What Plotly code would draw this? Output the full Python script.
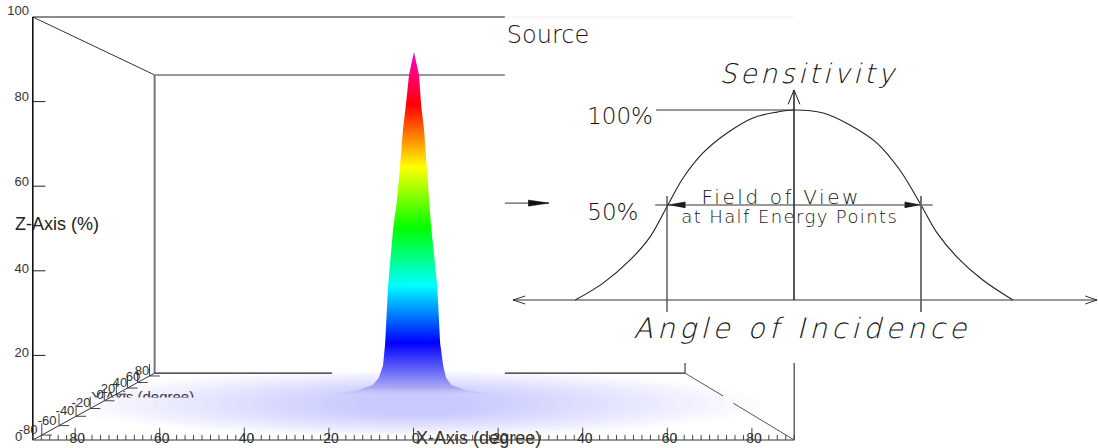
import json
import numpy as np
import plotly.graph_objects as go

W, H = 1098, 448
# ---- left panel scale: degrees and percent, both at the same picture scale
X0_PX, Z0_PX, DEG_PX, PCT_PX = 413.5, 440.0, 4.23, 4.23
# ---- right panel scale
A0_PX, S0_PX, ANG_PX, SENS_PX = 794.0, 300.0, 4.233, 1.9

# ---------- left panel data ----------
x_major = [-80, -60, -40, -20, 0, 20, 40, 60, 80]
x_major_labels = ["80", "60", "40", "20", "0", "20", "40", "60", "80"]
x_minor = list(range(-90, 91, 2))
z_ticks = [20, 40, 60, 80]
z_labels = ["0", "20", "40", "60", "80", "100"]
z_label_x = [-92.5, -90.9, -90.9, -90.9, -90.9, -90.9]
z_label_level = [0.5, 20.4, 40.2, 60.7, 81.0, 101.3]
y_labels = ["-80", "-60", "-40", "-20", "0", "20", "40", "60", "80"]
y_tick_depth = [0.074, 0.215, 0.355, 0.471, 0.587, 0.686, 0.777, 0.86, 0.958]
y_label_x = [-91.1, -86.6, -82.4, -78.6, -74.1, -72.2, -69.4, -66.3, -64.2]
y_label_z = [2.1, 4.3, 6.6, 8.5, 10.4, 11.8, 13.2, 14.7, 16.1]

peak_level = [91.7, 86.3, 79.2, 73.3, 64.5, 56.7, 50.1, 36.6, 22.9, 17.7, 14.7, 13.0, 11.8, 10.9]
peak_left = [0.1, -1.06, -1.8, -2.5, -3.2, -3.9, -4.8, -6.0, -6.7, -7.2, -8.2, -9.6, -13.0, -18.6]
peak_right = [0.1, 1.3, 1.8, 2.5, 3.1, 3.7, 4.2, 5.6, 6.3, 7.0, 7.7, 8.9, 12.4, 18.1]
color_level = [10.5, 12.3, 22.9, 36.6, 50.1, 64.5, 79.2, 91.0, 91.7]
color_value = ["rgba(205,205,248,0.2)", "#a9a9f3", "#0000ff", "#00ffff", "#00ff00", "#ffff00",
               "#ff0000", "#ff00c0", "#e000e0"]

floor_rx = [82, 78, 74, 70, 66, 62, 58, 54, 50, 46, 42, 38, 34, 30, 26, 22, 18, 14]
floor_rz = [7.8, 7.6, 7.3, 7.1, 6.8, 6.5, 6.2, 5.9, 5.6, 5.3, 5.0, 4.7, 4.4, 4.1, 3.8, 3.5, 3.2, 2.9]
floor_centre = 8.6

# ---------- right panel data ----------
curve_angle = [-51.7, -45.1, -38.7, -34.0, -29.8, -26.2, -21.5, -15.8, -9.7, -4.0, 0, 6.9, 13.2,
               19.6, 25.0, 30.0, 33.8, 38.5, 44.6, 51.7]
curve_sens = [0, 8.9, 21.1, 33.2, 50, 64.2, 77.4, 87.9, 95.8, 98.9, 100, 98.4, 92.1, 82.6, 68.4,
              50, 35.3, 22.6, 10.5, 0]
diagram_text = ["Source", "100%", "50%", "Field of View", "at Half Energy Points"]
diagram_text_angle = [-58.1, -41.1, -42.8, -3.0, -1.0]
diagram_text_sens = [138.2, 95.9, 45.3, 53.4, 42.9]
diagram_text_size = [24, 23, 23, 20, 18]
italic_text = ["Sensitivity", "Angle of Incidence"]
italic_angle = [3.4, 1.9]
italic_sens = [118.0, -16.2]
italic_size = [27, 28]
spacing = {"Source": 0, "100%": 0, "50%": 0, "Field of View": 2.6, "at Half Energy Points": 1.4,
           "Sensitivity": 3.4, "Angle of Incidence": 4.4}

fig = go.Figure()


def line(xs, ys, color="#333333", width=1.0, axes=1, **kw):
    suffix = "" if axes == 1 else "2"
    fig.add_trace(go.Scatter(x=xs, y=ys, mode="lines", xaxis="x" + suffix, yaxis="y" + suffix,
                             line=dict(color=color, width=width), hoverinfo="skip", **kw))


def text(xs, ys, labels, size, color="#333333", family="Liberation Sans", pos="middle center",
         axes=1, style="normal"):
    suffix = "" if axes == 1 else "2"
    fig.add_trace(go.Scatter(x=xs, y=ys, mode="text", text=labels, textposition=pos,
                             xaxis="x" + suffix, yaxis="y" + suffix, cliponaxis=False,
                             textfont=dict(family=family, size=size, color=color, style=style),
                             hoverinfo="skip"))


# Back of the box (the peak and the floor sit over it)
line([-90, 21.6], [100, 100], "#666666", 1.6)
line([21.6, 90], [100, 100], "#eeeeee", 1.0)
line([-90, -61.2], [100, 86.3], "#333333", 1.0)
line([-61.2, 21.6], [86.3, 86.3], "#777777", 1.6)
line([-61.2, -61.2], [86.3, 15.8], "#777777", 2.0)

# Y axis title, of which only the top half shows
text([-64.0], [9.8], ["Y-Axis (degree)"], 15, "#333333")
fig.add_trace(go.Scatter(x=[-77.7, -49.3, -49.3, -77.7], y=[10.05, 10.05, 4.7, 4.7], mode="lines",
                         fill="toself", fillcolor="#ffffff", line=dict(width=0), hoverinfo="skip"))

# Floor glow
t = np.linspace(0, 2 * np.pi, 120)
for rx, rz in zip(floor_rx, floor_rz):
    fig.add_trace(go.Scatter(x=rx * np.cos(t), y=floor_centre + rz * np.sin(t), mode="lines",
                             fill="toself", fillcolor="rgba(125,125,245,0.02)",
                             line=dict(width=0), hoverinfo="skip"))

line([-61.2, -19.3], [15.8, 15.8], "#222222", 1.3)
line([21.6, 64.2], [15.8, 15.8], "#222222", 1.3)
line([64.2, 64.2], [15.8, 18.2], "#666666", 1.5)

# Peak
z_lo, z_hi = color_level[0], color_level[-1]
fig.add_trace(go.Scatter(
    x=peak_left + peak_right[::-1], y=peak_level + peak_level[::-1], mode="lines", fill="toself",
    line=dict(width=0), hoverinfo="skip",
    fillgradient=dict(type="vertical", start=z_lo, stop=z_hi,
                      colorscale=[[(z - z_lo) / (z_hi - z_lo), c] for z, c in zip(color_level, color_value)])))

# Front axes
line([-90, -90], [0, 100], "#111111", 1.6)
line([-90, 90], [0, 0], "#333333", 1.0)
line([-90, -61.2], [0, 15.8], "#333333", 1.0)
line([64.2, 73.2], [15.8, 10.4], "#555555", 1.0)
line([75.6, 90], [8.7, 0], "#555555", 1.0)
line([90, 90], [0, 18.2], "#666666", 1.5)
for z in z_ticks:
    line([-90, -87], [z, z], "#222222", 1.0)
for x in x_minor:
    line([x, x], [0, 1.2], "#444444", 1.0)
for x in x_major:
    line([x, x], [0, 2.9], "#444444", 1.0)
for f in y_tick_depth:
    bx, bz = -90 + 28.8 * f, 15.8 * f
    line([bx, bx], [bz, bz + 2.8], "#444444", 1.0)
    line([bx, bx + 2.4], [bz, bz], "#444444", 1.0)

text([v + 0.5 for v in x_major], [0.1] * len(x_major), x_major_labels, 14)
text(z_label_x, z_label_level, z_labels, 13, pos="middle left")
text(y_label_x, y_label_z, y_labels, 13)
text([-84.3], [50.8], ["Z-Axis (%)"], 18, "#222222")
text([15.4], [0.1], ["X-Axis (degree)"], 18, "#333333")

# ---------- right panel ----------
THIN = "DejaVu Sans Light, DejaVu Sans ExtraLight, DejaVu Sans"
INK = "#151515"
line([-68.3, -57.9], [51, 51], "#333333", 1.0, axes=2)
for xs, ys in (([-62.8, -57.9, -62.8], [52.6, 51, 49.4]),
               ([-29.8, -25.7, -25.7], [50, 51.6, 48.4]),
               ([30, 26.2, 26.2], [50, 51.6, 48.4])):
    line(xs, ys, "#111111", 0.5, axes=2, fill="toself", fillcolor="#111111")
line(curve_angle, curve_sens, "#222222", 1.1, axes=2)
fig.data[-1].line.shape = "spline"
line([-66.4, 71.6], [0, 0], "#333333", 1.1, axes=2)
line([-63.5, -66.4, -63.5], [2.1, 0, -2.1], "#333333", 1.0, axes=2)
line([68.8, 71.6, 68.8], [2.1, 0, -2.1], "#333333", 1.0, axes=2)
line([0, 0], [0, 110.5], "#111111", 1.4, axes=2)
line([-1.4, 0, 1.4], [103, 110.5, 103], "#222222", 1.0, axes=2)
line([-32.6, 0], [100, 100], "#333333", 1.0, axes=2)
line([-32.8, 32.8], [50, 50], "#333333", 1.1, axes=2)
line([-30, -30], [54.7, -6.3], "#444444", 1.3, axes=2)
line([30, 30], [54.7, -6.3], "#666666", 1.8, axes=2)
text(diagram_text_angle, diagram_text_sens, diagram_text, diagram_text_size, INK, family=THIN, axes=2)
text(italic_angle, italic_sens, italic_text, italic_size, INK, family=THIN, axes=2, style="italic")

axis_common = dict(visible=False, fixedrange=True)
fig.update_layout(
    width=W, height=H, margin=dict(l=0, r=0, t=0, b=0), showlegend=False,
    paper_bgcolor="#ffffff", plot_bgcolor="#ffffff",
    xaxis=dict(range=[(0 - X0_PX) / DEG_PX, (W - X0_PX) / DEG_PX], domain=[0, 1], **axis_common),
    yaxis=dict(range=[(Z0_PX - H) / PCT_PX, Z0_PX / PCT_PX], domain=[0, 1], **axis_common),
    xaxis2=dict(range=[(0 - A0_PX) / ANG_PX, (W - A0_PX) / ANG_PX], overlaying="x", **axis_common),
    yaxis2=dict(range=[(S0_PX - H) / SENS_PX, S0_PX / SENS_PX], overlaying="y", **axis_common),
)

post = """
document.body.style.margin = '0';
var sp = %s;
document.querySelectorAll('.textpoint text').forEach(function (el) {
  var v = sp[el.textContent];
  if (v) { el.style.letterSpacing = v + 'px'; }
});
""" % json.dumps(spacing)

fig.write_html("out.html", post_script=post, config={"displayModeBar": False})
